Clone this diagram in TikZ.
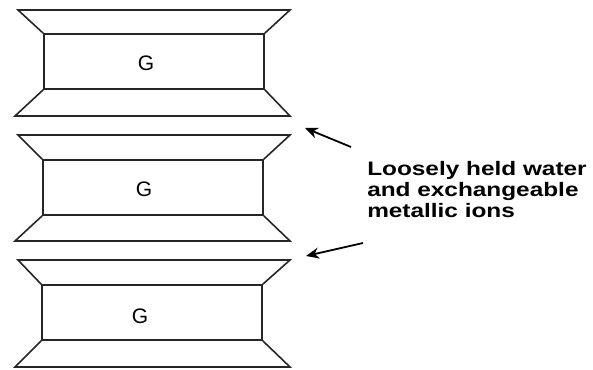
\documentclass[tikz,border=0pt]{standalone}
\usepackage{fontspec}
\setmainfont{Liberation Sans}
\usetikzlibrary{arrows.meta}
\begin{document}
\begin{tikzpicture}[x=1pt,y=-1pt,
  edge/.style={line width=1.6pt, draw=black!85, line join=miter},
  gbox/.style={edge, minimum width=220pt, minimum height=55pt, inner sep=0pt},
  gtext/.style={font=\fontsize{21}{21}\selectfont, inner sep=0pt},
  pointer/.style={line width=1.8pt, -{Stealth[length=13pt,width=11pt]}},
  label/.style={font=\fontsize{19.5}{21}\selectfont\bfseries, align=left,
    inner sep=0pt, xscale=1.25, anchor=north west}]
\useasboundingbox (0,0) rectangle (593,369);
% unit 1
\node[gbox] (g1) at (154,61.5) {};
\node[gtext] (l1) at (146,63) {G};
\coordinate (t1l) at (18,10); \coordinate (t1r) at (290,10);
\coordinate (b1l) at (15,116); \coordinate (b1r) at (290,116);
\draw[edge] (g1.north west) -- (t1l) -- (t1r) -- (g1.north east);
\draw[edge] (g1.south west) -- (b1l) -- (b1r) -- (g1.south east);
% unit 2
\node[gbox] (g2) at (153,187.5) {};
\node[gtext] (l2) at (144,189) {G};
\coordinate (t2l) at (18,135); \coordinate (t2r) at (290,135);
\coordinate (b2l) at (15,241); \coordinate (b2r) at (290,241);
\draw[edge] (g2.north west) -- (t2l) -- (t2r) -- (g2.north east);
\draw[edge] (g2.south west) -- (b2l) -- (b2r) -- (g2.south east);
% unit 3
\node[gbox] (g3) at (152,312.5) {};
\node[gtext] (l3) at (140,316) {G};
\coordinate (t3l) at (18,260); \coordinate (t3r) at (290,260);
\coordinate (b3l) at (15,367); \coordinate (b3r) at (290,367);
\draw[edge] (g3.north west) -- (t3l) -- (t3r) -- (g3.north east);
\draw[edge] (g3.south west) -- (b3l) -- (b3r) -- (g3.south east);
% label and arrows
\node[label] (txt) at (367,161) {Loosely held water\\and exchangeable\\metallic ions};
\coordinate (a1s) at (351,147); \coordinate (a1e) at (305,128);
\coordinate (a2s) at (363,243); \coordinate (a2e) at (306,256);
\draw[pointer] (a1s) -- (a1e);
\draw[pointer] (a2s) -- (a2e);
\end{tikzpicture}
\end{document}
